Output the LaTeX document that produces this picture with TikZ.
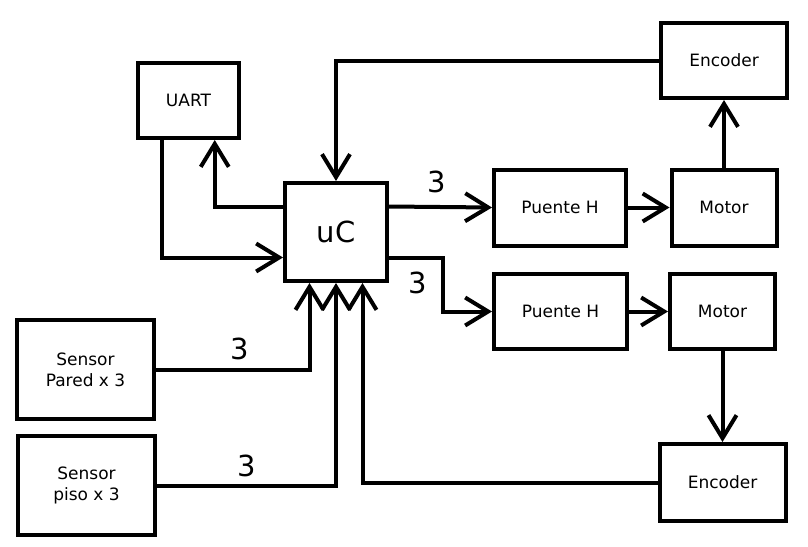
\documentclass[tikz,border=0pt]{standalone}
\usepackage{fontspec}
\setmainfont{DejaVu Sans}
\usetikzlibrary{arrows.meta, positioning, calc}

\begin{document}
\begin{tikzpicture}[x=1pt, y=-1pt,
  block/.style={draw, line width=4pt, inner sep=0pt, align=center, font=\fontsize{17}{21}\selectfont},
  link/.style={line width=4pt, -{Straight Barb[length=23pt, width=28pt]}},
  count/.style={font=\fontsize{29}{29}\selectfont}]
\useasboundingbox (0,0) rectangle (808,546);

% Blocks
\node[block, minimum width=101pt, minimum height=75pt] (uart) at (188.5,100.5) {UART};
\node[block, minimum width=102pt, minimum height=98pt, font=\fontsize{29}{29}\selectfont] (uc) at (336,232) {uC};
\node[block, minimum width=126pt, minimum height=75pt] (enc1) at (724,60.5) {Encoder};
\node[block, minimum width=132pt, minimum height=76pt] (puente1) at (560,207.5) {Puente H};
\node[block, minimum width=105pt, minimum height=76pt] (motor1) at (724,207.5) {Motor};
\node[block, minimum width=133pt, minimum height=75pt] (puente2) at (560.5,311.5) {Puente H};
\node[block, minimum width=105pt, minimum height=75pt] (motor2) at (722.5,311.5) {Motor};
\node[block, minimum width=137pt, minimum height=99pt] (pared) at (85.5,369.5) {Sensor\\Pared x 3};
\node[block, minimum width=137pt, minimum height=99pt] (piso) at (86.5,485.5) {Sensor\\piso x 3};
\node[block, minimum width=126pt, minimum height=77pt] (enc2) at (722.5,482.5) {Encoder};

% UART
\draw[link] ($(uart.south west)!0.25!(uart.south east)$) |- ($(uc.north west)!0.75!(uc.south west)$);
\draw[link] ($(uc.north west)!0.25!(uc.south west)$) -| ($(uart.south west)!0.75!(uart.south east)$);

% Motors
\draw[link] ($(uc.north east)!0.25!(uc.south east)$) -- (puente1.west);
\draw[link] ($(uc.north east)!0.75!(uc.south east)$) -- ++(54,0) |- (puente2.west);
\draw[link] (puente1.east) -- (motor1.west);
\draw[link] (puente2.east) -- (motor2.west);
\draw[link] (motor1.north) -- (enc1.south);
\draw[link] (motor2.south) -- (enc2.north);
\draw[link] (enc1.west) -| (uc.north);
\draw[link] (enc2.west) -| ($(uc.south west)!0.75!(uc.south east)$);

% Sensors
\draw[link] (pared.east) -| ($(uc.south west)!0.25!(uc.south east)$);
\draw[link] (piso.east) -| (uc.south);

% Labels
\node[count] (n1) at (437,182) {3};
\node[count] (n2) at (418,283) {3};
\node[count] (n3) at (240,349) {3};
\node[count] (n4) at (246.5,466) {3};
\end{tikzpicture}
\end{document}
